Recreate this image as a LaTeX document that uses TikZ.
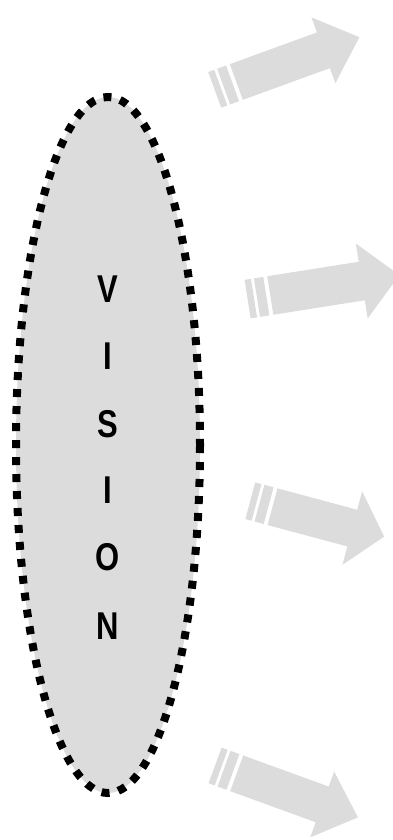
\documentclass[tikz,border=0pt]{standalone}
\usepackage{graphicx}
\usepackage{fontspec}
\setmainfont{Liberation Sans}
\definecolor{shade}{RGB}{220,220,220}
\newcommand{\tall}[1]{\scalebox{1}[1.25]{#1}}
\tikzset{letter/.style={inner sep=0pt, font=\fontsize{31}{31}\selectfont\bfseries}}

\begin{document}
\begin{tikzpicture}[x=1pt,y=-1pt]
\useasboundingbox (0,0) rectangle (392,840);
% the oval
\filldraw[fill=shade, draw=black, line width=8pt, dash pattern=on 8pt off 9pt] (108,445) ellipse [x radius=92, y radius=348];
\node[letter] (v1) at (108,289) {\tall{V}};
\node[letter] (v2) at (108,356) {\tall{I}};
\node[letter] (v3) at (108,424) {\tall{S}};
\node[letter] (v4) at (108,490) {\tall{I}};
\node[letter] (v5) at (108,557) {\tall{O}};
\node[letter] (v6) at (108,626) {\tall{N}};
% arrows
\begin{scope}[shift={(236.3,82)}, rotate=20]
\fill[color=shade] (0,-19)--(92.7,-19)--(92.7,-35)--(131,0)--(92.7,35)--(92.7,19)--(0,19)--cycle;
\fill[color=shade] (-13.5,-19) rectangle (-4,19);
\fill[color=shade] (-23,-19) rectangle (-16.5,19);
\end{scope}
\begin{scope}[shift={(270.3,295.5)}, rotate=9]
\fill[color=shade] (0,-19.5)--(92.6,-19.5)--(92.6,-38)--(130.6,0)--(92.6,38)--(92.6,19.5)--(0,19.5)--cycle;
\fill[color=shade] (-13.5,-19.5) rectangle (-4,19.5);
\fill[color=shade] (-23,-19.5) rectangle (-16.5,19.5);
\end{scope}
\begin{scope}[shift={(272.5,506.7)}, rotate=-15]
\fill[color=shade] (0,-19)--(82.6,-19)--(82.6,-38)--(115.6,0)--(82.6,38)--(82.6,19)--(0,19)--cycle;
\fill[color=shade] (-13.5,-19) rectangle (-4,19);
\fill[color=shade] (-23,-19) rectangle (-16.5,19);
\end{scope}
\begin{scope}[shift={(236.7,773.3)}, rotate=-20]
\fill[color=shade] (0,-19)--(91,-19)--(91,-35)--(129,0)--(91,35)--(91,19)--(0,19)--cycle;
\fill[color=shade] (-13.5,-19) rectangle (-4,19);
\fill[color=shade] (-23,-19) rectangle (-16.5,19);
\end{scope}
\end{tikzpicture}
\end{document}
